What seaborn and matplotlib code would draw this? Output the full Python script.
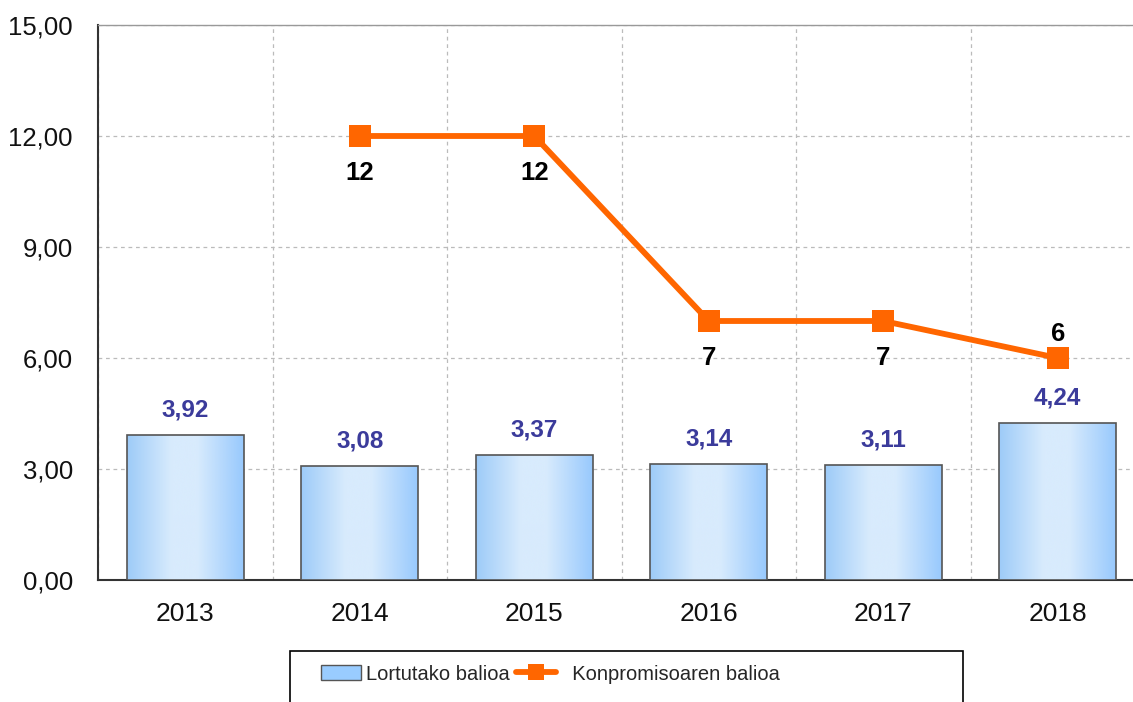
import numpy as np
import pandas as pd
import matplotlib.pyplot as plt
import seaborn as sns
from matplotlib.colors import LinearSegmentedColormap
from matplotlib.lines import Line2D
from matplotlib.patches import Patch, Rectangle
from matplotlib.ticker import FuncFormatter

# data
years = ['2013', '2014', '2015', '2016', '2017', '2018']
achieved = [3.92, 3.08, 3.37, 3.14, 3.11, 4.24]
commitment = [np.nan, 12, 12, 7, 7, 6]
commit_label_side = ['below', 'below', 'below', 'below', 'below', 'above']
legend_labels = ['Lortutako balioa', '  Konpromisoaren balioa']

sns.set_style('white')
plt.rcParams['font.family'] = ['Liberation Sans', 'DejaVu Sans']

df = pd.DataFrame({'year': years, 'pos': range(len(years)),
                   'achieved': achieved, 'commitment': commitment})

W, H = 1133, 702
fig = plt.figure(figsize=(W / 100, H / 100), dpi=100)
ax = fig.add_axes([98 / W, 1 - 580 / H, (1145 - 98) / W, (580 - 25) / H])

# BARS
sns.barplot(data=df, x='year', y='achieved', width=0.67, color='#99CCFF',
            saturation=1, edgecolor='#555555', linewidth=1.2, ax=ax, zorder=3)

# gradient fill inside each bar
cmap = LinearSegmentedColormap.from_list(
    'bar', [(0, '#9DCBF8'), (0.38, '#D8EBFD'), (0.6, '#D8EBFD'), (1, '#98C9FD')])
grad = np.linspace(0, 1, 256).reshape(1, -1)
for bar in list(ax.patches):
    x0, y0 = bar.get_x(), bar.get_y()
    w, h = bar.get_width(), bar.get_height()
    im = ax.imshow(grad, cmap=cmap, extent=(x0, x0 + w, y0, y0 + h),
                   aspect='auto', zorder=3.5, interpolation='bicubic')
    im.set_clip_path(bar)
    bar.set_facecolor('none')
    bar.set_zorder(4)

# LINE
sns.lineplot(data=df, x='pos', y='commitment', color='#FF6600', linewidth=4.2,
             marker='s', markersize=16, markeredgewidth=0, ax=ax, zorder=5)

# value labels
for i, v in enumerate(achieved):
    ax.annotate(f'{v:.2f}'.replace('.', ','), (i, v), xytext=(0, 18),
                textcoords='offset points', ha='center', va='center',
                fontsize=17.5, fontweight='bold', color='#3B3B9B', zorder=6)
for i, (v, side) in enumerate(zip(commitment, commit_label_side)):
    if np.isnan(v):
        continue
    dy = -26.5 if side == 'below' else 17
    ax.annotate(f'{v:.0f}', (i, v), xytext=(0, dy), textcoords='offset points',
                ha='center', va='center', fontsize=18.5, fontweight='bold',
                color='black', zorder=6)

# AXES
ax.set_xlim(-0.5, 5.5)
ax.set_ylim(0, 15)
ax.set_yticks(np.arange(0, 15.1, 3))
ax.yaxis.set_major_formatter(FuncFormatter(lambda v, p: f'{v:.2f}'.replace('.', ',')))
ax.set_xticks(range(len(years)))
ax.set_xticklabels(years)
ax.set_xticks(np.arange(-0.5, len(years), 1), minor=True)
ax.set_xlabel('')
ax.set_ylabel('')

ax.tick_params(axis='y', direction='inout', length=12, width=1.2, color='#333333',
               labelsize=18.5, pad=12, labelcolor='#111111')
ax.tick_params(axis='x', which='major', direction='out', length=4.5, width=1.2,
               color='#333333', labelsize=19, pad=11, labelcolor='#111111')
ax.tick_params(axis='x', which='minor', direction='out', length=6, width=1.2,
               color='#333333')

ax.grid(axis='y', which='major', color='#BBBBBB', linestyle=(0, (3, 3)), linewidth=0.9)
ax.grid(axis='x', which='major', visible=False)
ax.grid(axis='x', which='minor', color='#BBBBBB', linestyle=(0, (3, 3)), linewidth=0.9)
ax.set_axisbelow(True)

ax.spines['left'].set_color('#333333')
ax.spines['left'].set_linewidth(1.5)
ax.spines['bottom'].set_color('#333333')
ax.spines['bottom'].set_linewidth(1.5)
ax.spines['top'].set_color('#999999')
ax.spines['top'].set_linewidth(1)
ax.spines['right'].set_visible(False)

# LEGEND
handles = [Patch(facecolor='#99CCFF', edgecolor='#555555', linewidth=1),
           Line2D([], [], color='#FF6600', linewidth=4.2, marker='s',
                  markersize=11, markeredgewidth=0)]
fig.legend(handles, legend_labels, loc='center left',
           bbox_to_anchor=(321 / W, 1 - 674 / H), ncol=2, frameon=False,
           fontsize=14.5, handlelength=2.0, handletextpad=0.25, columnspacing=0.3,
           borderaxespad=0, borderpad=0)
fig.add_artist(Rectangle((290 / W, 1 - 712 / H), (963 - 290) / W, (712 - 651) / H,
                         transform=fig.transFigure, fill=False,
                         edgecolor='black', linewidth=1.2))

fig.savefig('out.png', dpi=100)
